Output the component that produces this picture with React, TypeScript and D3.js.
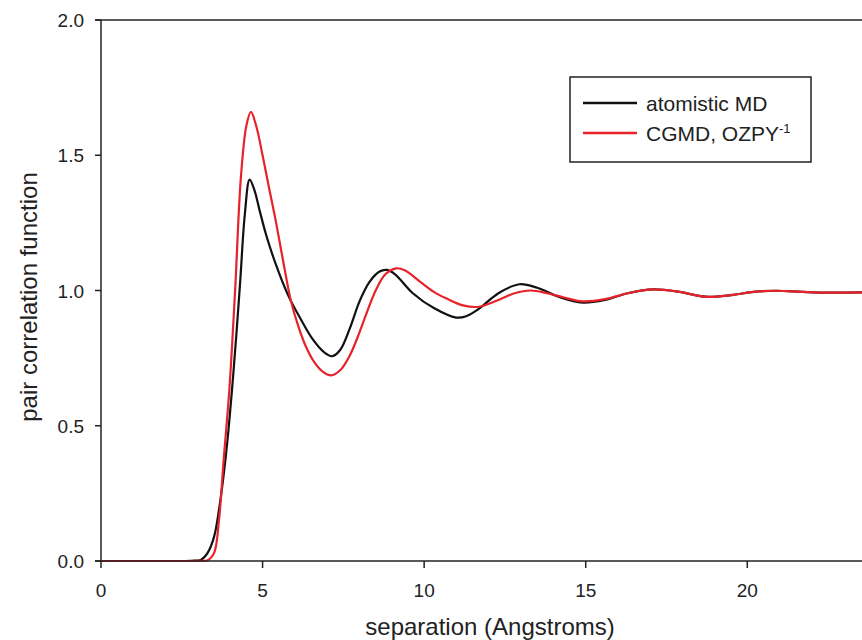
import React, { useRef, useEffect } from 'react';
import * as d3 from 'd3';

// separation (Angstroms) and g(r)
const mdX = [0, 1, 2, 2.8, 3.1, 3.3, 3.5, 3.7, 3.9, 4.1, 4.3, 4.45, 4.6, 4.75, 4.9, 5.1, 5.4, 5.8, 6.2, 6.55, 6.9, 7.15, 7.4, 7.7, 8.0, 8.3, 8.62, 8.85, 9.1, 9.65, 10.3, 10.99, 11.3, 11.71, 12.3, 12.95, 13.5, 14.2, 14.9, 15.6, 16.3, 17.1, 17.9, 18.7, 19.5, 20.2, 20.9, 21.7, 22.5, 23.6];
const mdY = [0, 0, 0, 0.001, 0.005, 0.03, 0.09, 0.23, 0.43, 0.7, 1.02, 1.28, 1.41, 1.37, 1.3, 1.21, 1.1, 0.98, 0.89, 0.82, 0.772, 0.757, 0.78, 0.86, 0.96, 1.03, 1.07, 1.076, 1.06, 0.99, 0.935, 0.9, 0.905, 0.934, 0.99, 1.023, 1.01, 0.975, 0.955, 0.965, 0.99, 1.004, 0.995, 0.977, 0.983, 0.995, 0.999, 0.995, 0.992, 0.993];

const cgX = [0, 1, 2, 3.0, 3.3, 3.5, 3.65, 3.8, 3.97, 4.15, 4.33, 4.5, 4.64, 4.8, 5.0, 5.2, 5.42, 5.65, 5.88, 6.1, 6.35, 6.6, 6.86, 7.12, 7.4, 7.7, 7.95, 8.2, 8.5, 8.8, 9.13, 9.4, 9.85, 10.3, 10.68, 11.2, 11.7, 12.3, 12.8, 13.3, 13.8, 14.3, 14.9, 15.6, 16.3, 17.1, 17.9, 18.7, 19.5, 20.2, 20.9, 21.7, 22.5, 23.6];
const cgY = [0, 0, 0, 0.001, 0.003, 0.03, 0.15, 0.38, 0.63, 1.0, 1.42, 1.61, 1.66, 1.61, 1.5, 1.38, 1.25, 1.1, 0.96, 0.87, 0.79, 0.735, 0.7, 0.686, 0.705, 0.76, 0.83, 0.91, 1.0, 1.06, 1.082, 1.075, 1.035, 0.995, 0.971, 0.945, 0.94, 0.965, 0.99, 1.0, 0.99, 0.975, 0.96, 0.968, 0.99, 1.004, 0.995, 0.977, 0.983, 0.995, 0.999, 0.995, 0.992, 0.993];

const xTicks = [0, 5, 10, 15, 20];
const yTicks = [0, 0.5, 1.0, 1.5, 2.0];

const W = 862;
const H = 640;
const FONT = 'Liberation Sans, Arial, sans-serif';

const App = () => {
    const svgRef = useRef<SVGSVGElement>(null);

    useEffect(() => {
        const svg = d3.select(svgRef.current);
        svg.selectAll('*').remove();

        const left = 101, top = 20, bottom = 561;
        const x = d3.scaleLinear().domain([0, 23.55]).range([left, W]);
        const y = d3.scaleLinear().domain([0, 2]).range([bottom, top]);

        const line = d3.line<[number, number]>()
            .x(d => x(d[0]))
            .y(d => y(d[1]))
            .curve(d3.curveCatmullRom.alpha(0.5));

        const md = mdX.map((v, i) => [v, mdY[i]] as [number, number]);
        const cg = cgX.map((v, i) => [v, cgY[i]] as [number, number]);

        svg.append('path').attr('d', line(md)).attr('fill', 'none')
            .attr('stroke', '#111').attr('stroke-width', 2.2);
        svg.append('path').attr('d', line(cg)).attr('fill', 'none')
            .attr('stroke', '#e8222b').attr('stroke-width', 2.2);

        // frame
        const ax = svg.append('g').attr('stroke', '#222').attr('stroke-width', 1.5);
        ax.append('line').attr('x1', left - 6).attr('x2', W).attr('y1', top).attr('y2', top);
        ax.append('line').attr('x1', left - 6).attr('x2', W).attr('y1', bottom).attr('y2', bottom);
        ax.append('line').attr('x1', left).attr('x2', left).attr('y1', top).attr('y2', bottom);

        yTicks.forEach(t => {
            ax.append('line').attr('x1', left - 6).attr('x2', left).attr('y1', y(t)).attr('y2', y(t));
            svg.append('text').attr('x', left - 17).attr('y', y(t) + 7)
                .attr('text-anchor', 'end').attr('font-size', 19).attr('font-family', FONT)
                .attr('fill', '#222').text(t.toFixed(1));
        });
        xTicks.forEach(t => {
            ax.append('line').attr('x1', x(t)).attr('x2', x(t)).attr('y1', bottom).attr('y2', bottom + 7);
            svg.append('text').attr('x', x(t)).attr('y', 597)
                .attr('text-anchor', 'middle').attr('font-size', 19).attr('font-family', FONT)
                .attr('fill', '#222').text(t);
        });

        svg.append('text').attr('x', 490).attr('y', 635).attr('text-anchor', 'middle')
            .attr('font-size', 24).attr('font-family', FONT).attr('fill', '#222')
            .text('separation (Angstroms)');
        svg.append('text').attr('transform', 'translate(37,297) rotate(-90)')
            .attr('text-anchor', 'middle').attr('font-size', 24).attr('font-family', FONT)
            .attr('fill', '#222').text('pair correlation function');

        // legend
        const lg = svg.append('g');
        lg.append('rect').attr('x', 570).attr('y', 77).attr('width', 241).attr('height', 85)
            .attr('fill', 'white').attr('stroke', '#222').attr('stroke-width', 1.5);
        lg.append('line').attr('x1', 583).attr('x2', 637).attr('y1', 103).attr('y2', 103)
            .attr('stroke', '#111').attr('stroke-width', 2.5);
        lg.append('line').attr('x1', 583).attr('x2', 637).attr('y1', 133).attr('y2', 133)
            .attr('stroke', '#e8222b').attr('stroke-width', 2.5);
        lg.append('text').attr('x', 646).attr('y', 111).attr('font-size', 21)
            .attr('font-family', FONT).attr('fill', '#222').text('atomistic MD');
        const t2 = lg.append('text').attr('x', 646).attr('y', 141).attr('font-size', 21)
            .attr('font-family', FONT).attr('fill', '#222');
        t2.append('tspan').text('CGMD, OZPY');
        t2.append('tspan').attr('dy', -8).attr('font-size', 13).text('-1');
    }, []);

    return (
        <svg ref={svgRef} width={W} height={H}
            style={{ position: 'absolute', left: 0, top: 0, background: 'white', display: 'block' }} />
    );
};

export default App;
